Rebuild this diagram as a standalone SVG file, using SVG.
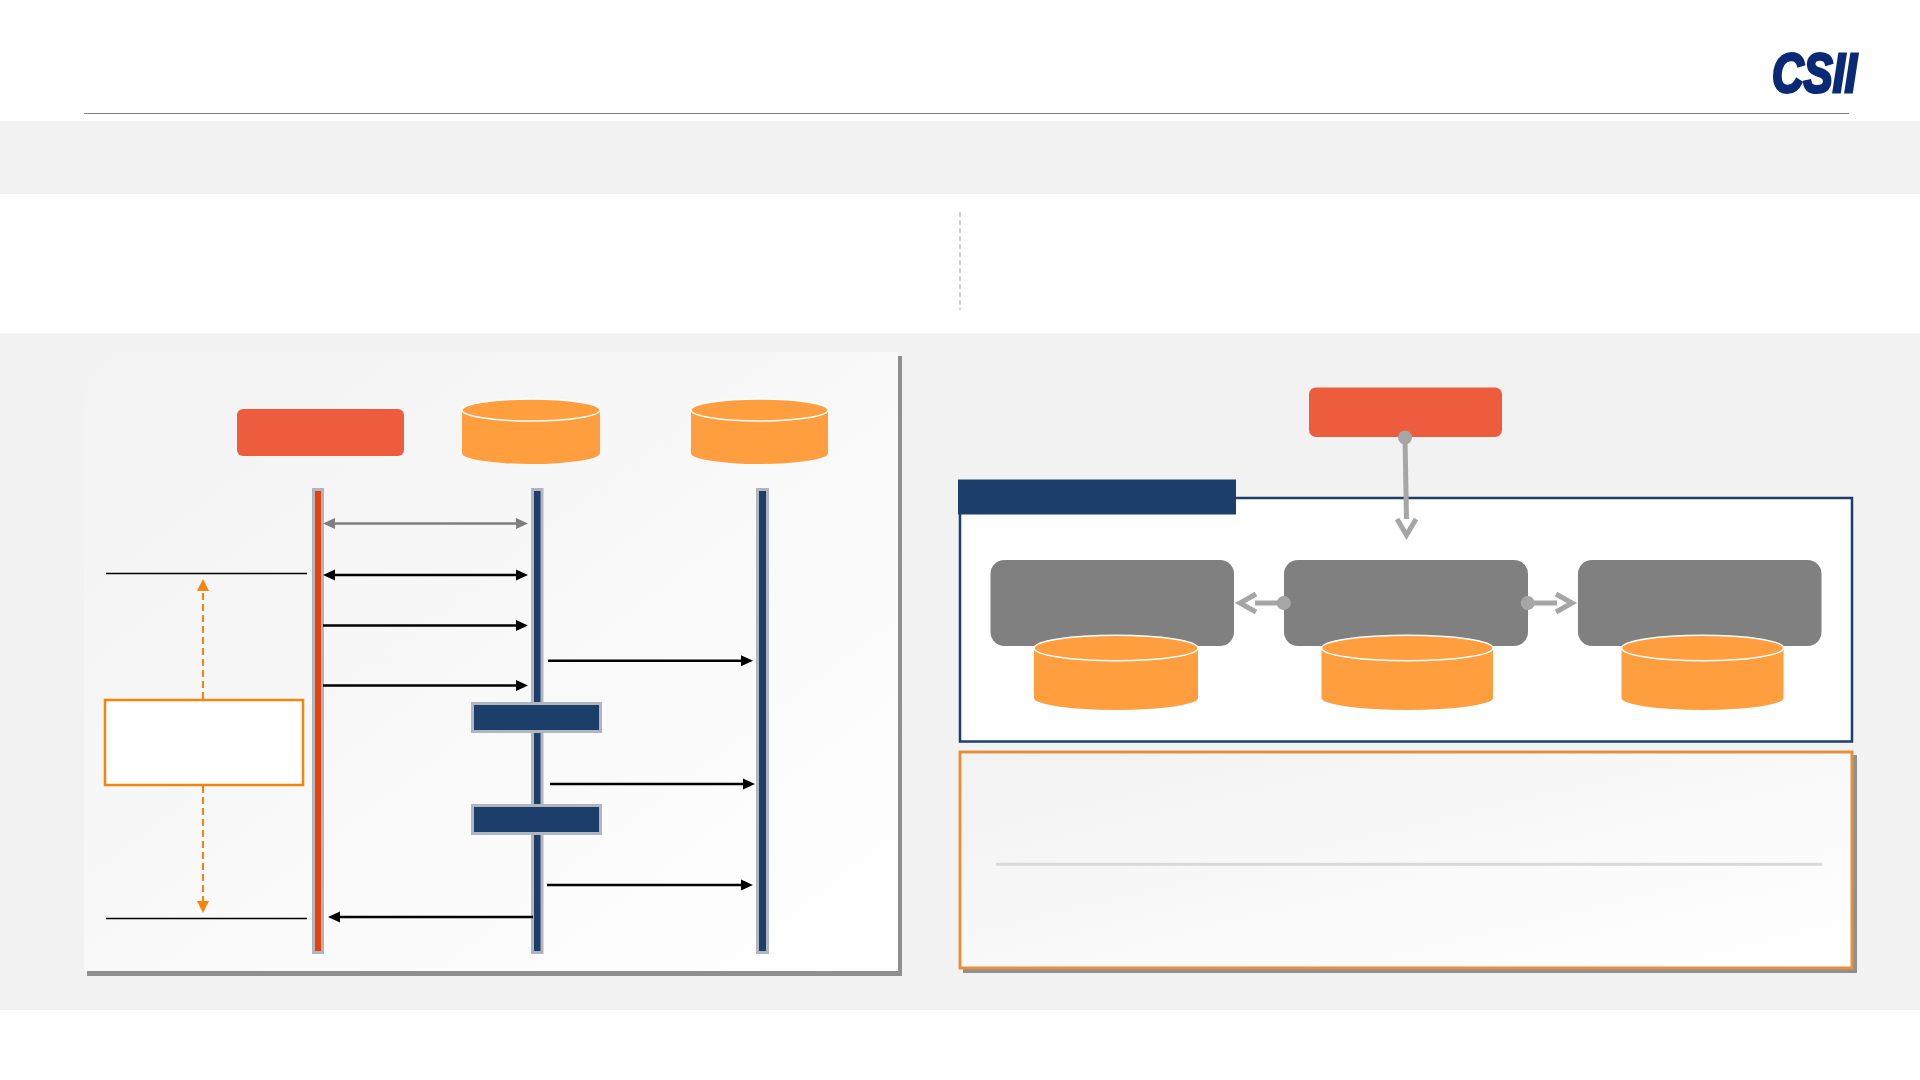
<svg xmlns="http://www.w3.org/2000/svg" width="1920" height="1080" viewBox="0 0 1920 1080">
<style>
.band{fill:#f2f2f2}
.life{stroke:#b1b5bd;stroke-width:3}
.navy{fill:#1b3e6b}
.red{fill:#e8400c}
.cyl{fill:#fe9e3e}
.cylTop{fill:#fe9e3e;stroke:#fff;stroke-width:1.5}
.redbox{fill:#ee5c3e}
.gray{fill:#808080}
.shadow{fill:#8f8f8f}
.blk{fill:none;stroke:#000;stroke-width:2.5}
.gry{fill:none;stroke:#7f7f7f;stroke-width:2.5}
.rule{fill:none;stroke:#000;stroke-width:1.5}
.dash{fill:none;stroke:#f5840c;stroke-width:2;stroke-dasharray:7 4}
.conn{fill:none;stroke:#a6a6a6;stroke-width:5}
.dot{fill:#a6a6a6}
</style>
<defs>
<linearGradient id="fade" x1="0" y1="0" x2="1" y2="1"><stop offset="0" stop-color="#f2f2f2"/><stop offset="1" stop-color="#fff"/></linearGradient>
<marker id="ab" markerUnits="userSpaceOnUse" markerWidth="14" markerHeight="14" refX="3" refY="7" orient="auto-start-reverse"><path d="M0 1.500L12 7L0 12.500Z" fill="#000"/></marker>
<marker id="ag" markerUnits="userSpaceOnUse" markerWidth="14" markerHeight="14" refX="3" refY="7" orient="auto-start-reverse"><path d="M0 1.500L12 7L0 12.500Z" fill="#7f7f7f"/></marker>
<marker id="ao" markerUnits="userSpaceOnUse" markerWidth="14" markerHeight="14" refX="3" refY="7" orient="auto-start-reverse"><path d="M0 1L12 7L0 13Z" fill="#f5840c"/></marker>
</defs>
<rect width="1920" height="1080" fill="#fff"/>
<g id="background">
<rect class="band" x="0" y="121" width="1920" height="73"/>
<rect class="band" x="0" y="333.500" width="1920" height="676.500"/>
<path d="M84 113.500H1849" fill="none" stroke="#808080" stroke-width="1.200"/>
<path d="M960 212V310" fill="none" stroke="#b5b5b5" stroke-width="1.300" stroke-dasharray="5 3"/>
</g>
<g id="logo"><text x="1772" y="92" font-family="'Liberation Sans',sans-serif" font-size="56" font-weight="700" font-style="italic" fill="#0a2a75" stroke="#0a2a75" stroke-width="3" textLength="85" lengthAdjust="spacingAndGlyphs">CSII</text></g>
<g id="sequence-panel">
<rect class="shadow" x="87" y="356" width="815" height="620"/>
<rect x="84" y="352" width="814" height="619" fill="url(#fade)"/>
</g>
<g id="actor-red"><rect class="redbox" x="237" y="409" width="167" height="47" rx="6"/></g>
<g id="db-a"><path class="cyl" d="M462 410A69 11 0 0 1 600 410V453A69 11 0 0 1 462 453Z"/><ellipse class="cylTop" cx="531" cy="410" rx="69" ry="11"/></g>
<g id="db-b"><path class="cyl" d="M691 410A68.500 11 0 0 1 828 410V453A68.500 11 0 0 1 691 453Z"/><ellipse class="cylTop" cx="759.500" cy="410" rx="68.500" ry="11"/></g>
<g id="life-red"><rect class="red life" x="313.500" y="489.500" width="9" height="463"/></g>
<g id="life-mid"><rect class="navy life" x="532.500" y="489.500" width="9.500" height="463"/></g>
<g id="life-right"><rect class="navy life" x="757.500" y="489.500" width="10" height="463"/></g>
<g id="block-1"><rect class="navy life" x="472.500" y="703.500" width="128" height="28"/></g>
<g id="block-2"><rect class="navy life" x="472.500" y="805.500" width="128" height="28"/></g>
<g id="note"><rect x="105" y="700" width="198" height="85" fill="#fff" stroke="#f5840c" stroke-width="2.500"/></g>
<g id="gate-frame">
<rect x="960" y="498" width="892" height="243.500" fill="#fff" stroke="#1b3e6b" stroke-width="2.500"/>
<rect class="navy" x="958" y="479.500" width="278" height="35"/>
</g>
<g id="actor-red-2"><rect class="redbox" x="1309" y="387.500" width="193" height="49.500" rx="7"/></g>
<g id="node-1"><rect class="gray" x="990.500" y="560" width="243.500" height="86" rx="14"/><path class="cyl" d="M1034 648A82 12.800 0 0 1 1198 648V698A82 12 0 0 1 1034 698Z"/><ellipse class="cylTop" cx="1116" cy="648" rx="82" ry="12.800"/></g>
<g id="node-2"><rect class="gray" x="1284" y="560" width="244" height="86" rx="14"/><path class="cyl" d="M1321.500 648A85.750 12.800 0 0 1 1493 648V698A85.750 12 0 0 1 1321.500 698Z"/><ellipse class="cylTop" cx="1407.250" cy="648" rx="85.750" ry="12.800"/></g>
<g id="node-3"><rect class="gray" x="1578" y="560" width="243.500" height="86" rx="14"/><path class="cyl" d="M1621.500 648A81 12.800 0 0 1 1783.500 648V698A81 12 0 0 1 1621.500 698Z"/><ellipse class="cylTop" cx="1702.500" cy="648" rx="81" ry="12.800"/></g>
<g id="summary">
<rect class="shadow" x="963" y="755" width="894" height="218"/>
<rect x="960" y="752" width="892" height="216" fill="url(#fade)" stroke="#e5913c" stroke-width="3"/>
<rect x="996" y="862.800" width="826" height="3" fill="#d9d9d9"/>
</g>
<g id="connectors">
<path class="gry" d="M332 523.500H519" marker-start="url(#ag)" marker-end="url(#ag)"/>
<path class="blk" d="M332 575H519" marker-start="url(#ab)" marker-end="url(#ab)"/>
<path class="blk" d="M323 625.500H519" marker-end="url(#ab)"/>
<path class="blk" d="M323 685.500H519" marker-end="url(#ab)"/>
<path class="blk" d="M548 660.800H744" marker-end="url(#ab)"/>
<path class="blk" d="M550 784H746" marker-end="url(#ab)"/>
<path class="blk" d="M547 885H744" marker-end="url(#ab)"/>
<path class="blk" d="M533 917H337" marker-end="url(#ab)"/>
<path class="rule" d="M106 573.500H307M106 918.500H307"/>
<path class="dash" d="M203 699V588" marker-end="url(#ao)"/>
<path class="dash" d="M203 786V904" marker-end="url(#ao)"/>
<path class="conn" d="M1405 438L1406.500 519M1397 519L1406.500 535L1416 519"/>
<circle class="dot" cx="1405" cy="437.500" r="7"/>
<path class="conn" d="M1284 603H1255M1256 594L1240 603L1256 612"/>
<circle class="dot" cx="1283.700" cy="603" r="7"/>
<path class="conn" d="M1528 603H1557M1556 594L1572 603L1556 612"/>
<circle class="dot" cx="1527.700" cy="603" r="7"/>
</g>
</svg>
